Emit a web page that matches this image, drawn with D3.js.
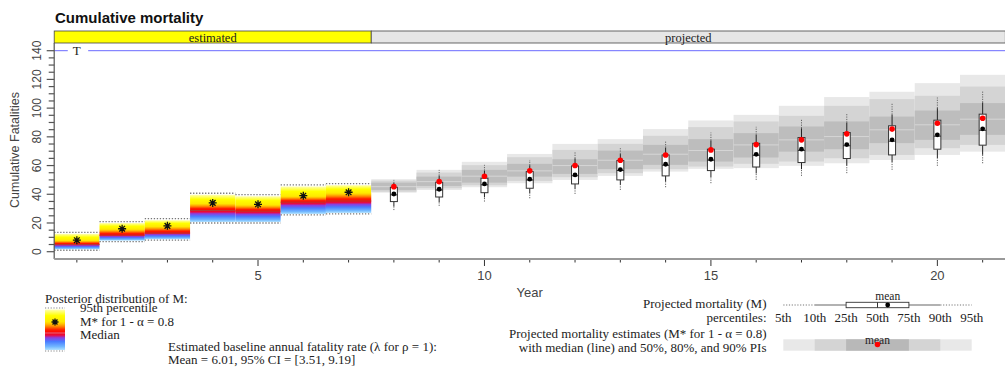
<!DOCTYPE html>
<html>
<head>
<meta charset="utf-8">
<script src="https://cdn.jsdelivr.net/npm/d3@7"></script>
<style>
  body { margin: 0; background: #fff; }
  svg { display: block; }
  .serif { font-family: "Liberation Serif", "Times New Roman", serif; fill: #222; }
  .sans { font-family: "Liberation Sans", Arial, sans-serif; }
</style>
</head>
<body>
<div id="chart"></div>
<script>
// estimated years (posterior of M)
const estYears = [1, 2, 3, 4, 5, 6, 7];
const estLow = [1, 7, 8, 20, 20, 25.6, 26.3];
const estMedian = [5, 11.5, 13, 28.7, 28.2, 34.5, 35.3];
const estMstar = [8, 16, 18, 34, 33, 39, 41.4];
const estHigh = [13.5, 21, 23, 40.7, 39.7, 46.5, 47.4];

// projected years: percentiles of M
const projYears = [8, 9, 10, 11, 12, 13, 14, 15, 16, 17, 18, 19, 20, 21];
const q05 = [29, 31.9, 34.9, 37.2, 40.2, 43, 44.9, 47.7, 50, 52.8, 54.7, 57, 59.8, 61.6];
const q10 = [31.5, 34.5, 37.8, 40.5, 43.5, 46.5, 48.7, 52, 54.5, 57.5, 59.8, 62.2, 65, 67.5];
const q25 = [34.9, 38.1, 41.1, 44.2, 47.2, 50, 52.8, 56.5, 59, 62.1, 64.9, 67.4, 71.4, 74.2];
const q50 = [39.6, 42.9, 46.6, 49.9, 52.9, 56.6, 60.2, 63.7, 67.1, 70.6, 73.8, 77, 80.5, 84.6];
const meanM = [40.2, 43.5, 47.2, 50.5, 53.5, 57.2, 60.9, 64.4, 67.8, 71.4, 74.6, 77.9, 81.4, 85.6];
const q75 = [44.9, 48.4, 51.2, 55.8, 59.8, 63.5, 67.4, 71.4, 75.5, 79.5, 83, 87.7, 91.6, 95.8];
const q90 = [47.8, 53, 56.5, 60.2, 65, 68, 72.5, 77.5, 81.5, 86, 90, 95.5, 100, 104];
const q95 = [50, 57, 60.5, 63.9, 69.7, 72.1, 77.2, 83, 87, 92.3, 96.5, 103.5, 107.4, 112.3];
const mStar = [45.3, 48.8, 52.6, 56.3, 60, 63.7, 67.4, 70.9, 74.6, 77.9, 82.1, 85.4, 89.5, 93];

// projected M* prediction intervals
const pi90lo = [41.1, 43, 44.9, 47.7, 50, 52.8, 55.8, 57.7, 58.2, 59.8, 61.6, 63.9, 67.4, 69.7];
const pi80lo = [41.8, 44.2, 46.3, 49.3, 51.9, 54.7, 57.5, 59.3, 61.2, 62.8, 65.1, 67.4, 72.1, 74.4];
const pi50lo = [43, 45.8, 48.1, 52.3, 54.2, 57.5, 60.5, 62.8, 65.6, 69.7, 71.4, 75.6, 77.9, 81.4];
const piMed = [45.3, 48.8, 52.6, 56.3, 60, 63.7, 67.9, 70.5, 74.4, 77.9, 80.2, 84.9, 88.4, 92.3];
const pi50hi = [48.1, 52.3, 57, 61.2, 64.4, 70.4, 74.4, 78.4, 82.6, 87.2, 90.7, 94.1, 98.3, 103.5];
const pi80hi = [49.5, 55.1, 60.3, 65.8, 70.9, 75.1, 80.7, 86.8, 90.7, 94.6, 101.6, 106.3, 108.6, 115];
const pi90hi = [50.5, 57, 62.6, 68.1, 75.1, 78.4, 85.4, 91.4, 95.3, 101.6, 107.7, 111.4, 117.4, 123.2];

const target = 140;
const xTicks = [5, 10, 15, 20];
const yTicks = [0, 20, 40, 60, 80, 100, 120, 140];
const pctLabels = ["5th", "10th", "25th", "50th", "75th", "90th", "95th"];

const width = 1005, height = 368;
const svg = d3.select('#chart').append('svg')
    .attr('width', width).attr('height', height);

const x = d3.scaleLinear().domain([0.5, 21.5]).range([54.2, 1005.3]);
const y = d3.scaleLinear().domain([0, 140]).range([251.7, 50.7]);
const plotTop = 43, axisY = 259;

// heat gradient for a posterior block (bottom -> top)
function heatStops(fm, fs) {
    const a = fs - fm;
    return [
        [0, '#b2e2ff'], [fm * 0.2, '#72b8ff'], [fm * 0.5, '#4a7cff'], [fm * 0.72, '#8a40e0'],
        [fm * 0.86, '#e01050'], [fm, '#ff0000'], [fm + a * 0.29, '#ff2000'], [fm + a * 0.57, '#ff8000'],
        [fm + a * 0.8, '#ffc000'], [fs, '#ffe800'], [fs + (1 - fs) * 0.5, '#ffff00'], [1, '#ffffb4']
    ];
}
const defs = svg.append('defs');
function addGradient(id, fm, fs) {
    const g = defs.append('linearGradient').attr('id', id)
        .attr('x1', 0).attr('y1', 1).attr('x2', 0).attr('y2', 0);
    heatStops(fm, fs).forEach(s => g.append('stop').attr('offset', s[0]).attr('stop-color', s[1]));
}

function asterisk(g, cx, cy, r) {
    const p = d3.path();
    for (let k = 0; k < 4; k++) {
        const a = k * Math.PI / 4 + Math.PI / 2;
        p.moveTo(cx - r * Math.cos(a), cy - r * Math.sin(a));
        p.lineTo(cx + r * Math.cos(a), cy + r * Math.sin(a));
    }
    g.append('path').attr('d', p.toString()).attr('stroke', '#111').attr('stroke-width', 1.3);
}

// title
svg.append('text').attr('class', 'sans').attr('x', 55).attr('y', 23)
    .attr('font-size', 15).attr('font-weight', 'bold').attr('fill', '#111')
    .text('Cumulative mortality');

// strips
svg.append('rect').attr('x', x(0.5)).attr('y', 31).attr('width', x(7.5) - x(0.5)).attr('height', 12)
    .attr('fill', '#ffff00').attr('stroke', '#444').attr('stroke-width', 0.8);
svg.append('rect').attr('x', x(7.5)).attr('y', 31).attr('width', x(21.5) - x(7.5)).attr('height', 12)
    .attr('fill', '#e6e6e6').attr('stroke', '#444').attr('stroke-width', 0.8);
svg.append('text').attr('class', 'serif').attr('x', (x(0.5) + x(7.5)) / 2).attr('y', 41.5)
    .attr('text-anchor', 'middle').attr('font-size', 12.5).text('estimated');
svg.append('text').attr('class', 'serif').attr('x', (x(7.5) + x(21.5)) / 2).attr('y', 41.5)
    .attr('text-anchor', 'middle').attr('font-size', 12.5).text('projected');

// target line
svg.append('line').attr('x1', x(0.5)).attr('x2', x(0.8)).attr('y1', y(target)).attr('y2', y(target))
    .attr('stroke', '#6b6bff').attr('stroke-width', 1);
svg.append('line').attr('x1', x(1.25)).attr('x2', x(21.5)).attr('y1', y(target)).attr('y2', y(target))
    .attr('stroke', '#6b6bff').attr('stroke-width', 1);
svg.append('text').attr('class', 'serif').attr('x', x(1)).attr('y', y(target) + 4.5)
    .attr('text-anchor', 'middle').attr('font-size', 13).text('T');

// estimated posterior blocks
const est = svg.append('g');
estYears.forEach((yr, i) => {
    const fm = (estMedian[i] - estLow[i]) / (estHigh[i] - estLow[i]);
    const fs = (estMstar[i] - estLow[i]) / (estHigh[i] - estLow[i]);
    addGradient('heat' + i, fm, fs);
    const x0 = x(yr - 0.5), x1 = x(yr + 0.5);
    est.append('rect').attr('x', x0).attr('width', x1 - x0)
        .attr('y', y(estHigh[i]) + 1.5).attr('height', y(estLow[i]) - y(estHigh[i]) - 2.5)
        .attr('fill', `url(#heat${i})`);
    est.append('line').attr('x1', x0).attr('x2', x1).attr('y1', y(estMedian[i])).attr('y2', y(estMedian[i]))
        .attr('stroke', '#b83a34').attr('stroke-width', 1);
    [estHigh[i], estLow[i]].forEach(v => {
        est.append('line').attr('x1', x0).attr('x2', x1).attr('y1', y(v)).attr('y2', y(v))
            .attr('stroke', '#777').attr('stroke-width', 1.3).attr('stroke-dasharray', '1.3,1.7');
    });
    asterisk(est, x(yr), y(estMstar[i]), 4);
});

// projected bands
const bands = svg.append('g');
projYears.forEach((yr, i) => {
    const x0 = x(yr - 0.5), x1 = x(yr + 0.5);
    [[pi90lo, pi90hi, '#e8e8e8'], [pi80lo, pi80hi, '#d4d4d4'], [pi50lo, pi50hi, '#bdbdbd']].forEach(b => {
        bands.append('rect').attr('x', x0).attr('width', x1 - x0)
            .attr('y', y(b[1][i])).attr('height', y(b[0][i]) - y(b[1][i])).attr('fill', b[2]);
    });
    bands.append('line').attr('x1', x0).attr('x2', x1).attr('y1', y(piMed[i])).attr('y2', y(piMed[i]))
        .attr('stroke', '#d6d6d6').attr('stroke-width', 1);
});

// projected box plots
const boxes = svg.append('g');
projYears.forEach((yr, i) => {
    const cx = x(yr), hw = 3.5;
    const seg = (a, b, dash) => boxes.append('line').attr('x1', cx).attr('x2', cx)
        .attr('y1', y(a)).attr('y2', y(b)).attr('stroke', dash ? '#666' : '#222')
        .attr('stroke-width', 1).attr('stroke-dasharray', dash ? '1.2,1.2' : null);
    seg(q05[i], q10[i], true);
    seg(q10[i], q25[i], false);
    seg(q75[i], q90[i], false);
    seg(q90[i], q95[i], true);
    boxes.append('rect').attr('x', cx - hw).attr('width', hw * 2)
        .attr('y', y(q75[i])).attr('height', y(q25[i]) - y(q75[i]))
        .attr('fill', '#fff').attr('stroke', '#333').attr('stroke-width', 1);
    boxes.append('line').attr('x1', cx - hw).attr('x2', cx + hw).attr('y1', y(q50[i])).attr('y2', y(q50[i]))
        .attr('stroke', '#222').attr('stroke-width', 1);
    boxes.append('circle').attr('cx', cx).attr('cy', y(meanM[i])).attr('r', 2.4).attr('fill', '#000');
    boxes.append('circle').attr('cx', cx).attr('cy', y(mStar[i])).attr('r', 2.8).attr('fill', '#ff0000');
});

// y axis
const yAxis = svg.append('g').attr('transform', `translate(${x(0.5)},0)`);
yAxis.append('line').attr('x1', 0).attr('x2', 0).attr('y1', plotTop).attr('y2', axisY)
    .attr('stroke', '#555').attr('stroke-width', 1.2);
y.ticks(28).forEach(v => {
    const major = v % 20 === 0;
    yAxis.append('line').attr('x1', major ? -7.5 : -5.5).attr('x2', 0).attr('y1', y(v)).attr('y2', y(v))
        .attr('stroke', '#555').attr('stroke-width', 1.2);
});
yTicks.forEach(v => {
    yAxis.append('text').attr('class', 'sans').attr('font-size', 12).attr('fill', '#444')
        .attr('text-anchor', 'middle')
        .attr('transform', `translate(-13,${y(v)}) rotate(-90)`).text(v);
});
svg.append('text').attr('class', 'sans').attr('font-size', 12.5).attr('fill', '#444')
    .attr('text-anchor', 'middle').attr('transform', 'translate(19,150) rotate(-90)')
    .text('Cumulative Fatalities');

// x axis
const xAxis = svg.append('g').attr('transform', `translate(0,${axisY})`);
xAxis.append('line').attr('x1', x(0.5)).attr('x2', x(21.5)).attr('y1', 0).attr('y2', 0)
    .attr('stroke', '#999').attr('stroke-width', 2);
d3.range(1, 22).forEach(v => {
    const major = xTicks.includes(v);
    xAxis.append('line').attr('x1', x(v)).attr('x2', x(v)).attr('y1', 1).attr('y2', major ? 7 : 3.5)
        .attr('stroke', '#333').attr('stroke-width', 1);
});
xTicks.forEach(v => {
    xAxis.append('text').attr('class', 'sans').attr('x', x(v)).attr('y', 21)
        .attr('text-anchor', 'middle').attr('font-size', 13).attr('fill', '#444').text(v);
});
svg.append('text').attr('class', 'sans').attr('x', (x(0.5) + x(21.5)) / 2).attr('y', 297)
    .attr('text-anchor', 'middle').attr('font-size', 13).attr('fill', '#444').text('Year');

// left legend
const lg = svg.append('g');
addGradient('heatLegend', (351 - 333) / 43, (351 - 321) / 43);
lg.append('rect').attr('x', 45).attr('y', 309.5).attr('width', 20).attr('height', 40.5).attr('fill', 'url(#heatLegend)');
lg.append('line').attr('x1', 45).attr('x2', 65).attr('y1', 333).attr('y2', 333).attr('stroke', '#e06a8a').attr('stroke-width', 1);
[308, 351].forEach(v => lg.append('line').attr('x1', 45).attr('x2', 65).attr('y1', v).attr('y2', v)
    .attr('stroke', '#888').attr('stroke-width', 1.2).attr('stroke-dasharray', '1.2,1.6'));
asterisk(lg, 55, 322, 3.5);
lg.append('text').attr('class', 'serif').attr('x', 45).attr('y', 302.5).attr('font-size', 13).text('Posterior distribution of M:');
lg.append('text').attr('class', 'serif').attr('x', 80).attr('y', 312).attr('font-size', 13).text('95th percentile');
lg.append('text').attr('class', 'serif').attr('x', 80).attr('y', 326).attr('font-size', 13).text('M* for 1 - α = 0.8');
lg.append('text').attr('class', 'serif').attr('x', 80).attr('y', 339).attr('font-size', 13).text('Median');
lg.append('text').attr('class', 'serif').attr('x', 168).attr('y', 351).attr('font-size', 13)
    .text('Estimated baseline annual fatality rate (λ for ρ = 1):');
lg.append('text').attr('class', 'serif').attr('x', 168).attr('y', 364).attr('font-size', 13)
    .text('Mean = 6.01, 95% CI = [3.51, 9.19]');

// right legend
const rg = svg.append('g');
const lx = d3.scalePoint().domain(pctLabels).range([783.3, 971.7]);
rg.append('text').attr('class', 'serif').attr('x', 766.5).attr('y', 307.5).attr('text-anchor', 'end')
    .attr('font-size', 13).text('Projected mortality (M)');
rg.append('text').attr('class', 'serif').attr('x', 766.5).attr('y', 321.5).attr('text-anchor', 'end')
    .attr('font-size', 13).text('percentiles:');
pctLabels.forEach(p => rg.append('text').attr('class', 'serif').attr('x', lx(p)).attr('y', 321.5)
    .attr('text-anchor', 'middle').attr('font-size', 13).text(p));
const by = 305;
rg.append('line').attr('x1', lx('5th')).attr('x2', lx('10th')).attr('y1', by).attr('y2', by)
    .attr('stroke', '#777').attr('stroke-dasharray', '1.2,1.6').attr('stroke-width', 1.2);
rg.append('line').attr('x1', lx('90th')).attr('x2', lx('95th')).attr('y1', by).attr('y2', by)
    .attr('stroke', '#777').attr('stroke-dasharray', '1.2,1.6').attr('stroke-width', 1.2);
rg.append('line').attr('x1', lx('10th')).attr('x2', lx('25th')).attr('y1', by).attr('y2', by).attr('stroke', '#999').attr('stroke-width', 1.3);
rg.append('line').attr('x1', lx('75th')).attr('x2', lx('90th')).attr('y1', by).attr('y2', by).attr('stroke', '#999').attr('stroke-width', 1.3);
rg.append('rect').attr('x', lx('25th')).attr('y', by - 2.7).attr('width', lx('75th') - lx('25th')).attr('height', 5.4)
    .attr('fill', '#fff').attr('stroke', '#333').attr('stroke-width', 0.9);
rg.append('line').attr('x1', lx('50th')).attr('x2', lx('50th')).attr('y1', by - 2.7).attr('y2', by + 2.7).attr('stroke', '#333');
rg.append('circle').attr('cx', 887.7).attr('cy', by).attr('r', 2.4).attr('fill', '#000');
rg.append('text').attr('class', 'serif').attr('x', 887.7).attr('y', 299.5).attr('text-anchor', 'middle')
    .attr('font-size', 11.5).text('mean');

rg.append('text').attr('class', 'serif').attr('x', 766.5).attr('y', 337.5).attr('text-anchor', 'end')
    .attr('font-size', 13).text('Projected mortality estimates (M* for 1 - α = 0.8)');
rg.append('text').attr('class', 'serif').attr('x', 766.5).attr('y', 352).attr('text-anchor', 'end')
    .attr('font-size', 13).text('with median (line) and 50%, 80%, and 90% PIs');
[['5th', '95th', '#e8e8e8'], ['10th', '90th', '#d4d4d4'], ['25th', '75th', '#b8b8b8']].forEach(b => {
    rg.append('rect').attr('x', lx(b[0])).attr('width', lx(b[1]) - lx(b[0])).attr('y', 339.3).attr('height', 11.4).attr('fill', b[2]);
});
rg.append('text').attr('class', 'serif').attr('x', lx('50th')).attr('y', 343.5).attr('text-anchor', 'middle')
    .attr('font-size', 11.5).text('mean');
rg.append('circle').attr('cx', lx('50th')).attr('cy', 344.5).attr('r', 2.8).attr('fill', '#ff0000');
</script>
</body>
</html>
